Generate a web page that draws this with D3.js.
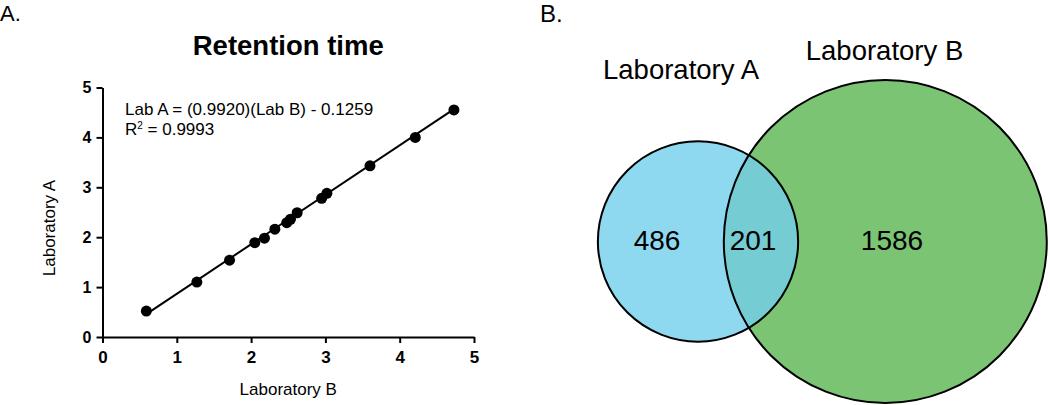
<!DOCTYPE html>
<html>
<head>
<meta charset="utf-8">
<script src="https://cdn.jsdelivr.net/npm/d3@7"></script>
<style>
  body { margin: 0; background: #fff; }
  svg { display: block; font-family: 'Liberation Sans', Arial, sans-serif; }
</style>
</head>
<body>
<div id="chart"></div>
<script>
// Panel A data: retention time, lab B (x) vs lab A (y)
const labB = [0.59, 1.27, 1.71, 2.05, 2.18, 2.32, 2.48, 2.53, 2.62, 2.95, 3.02, 3.60, 4.21, 4.73];
const labA = [0.52, 1.10, 1.54, 1.89, 1.98, 2.16, 2.29, 2.36, 2.49, 2.78, 2.88, 3.43, 4.00, 4.55];
const slope = 0.9920, intercept = -0.1259, rSquared = 0.9993;
const axisTicks = [0, 1, 2, 3, 4, 5];

// Panel B data: Venn counts
const vennLabels = ['Laboratory A', 'Laboratory B'];
const onlyA = 486, shared = 201, onlyB = 1586;

const width = 1050, height = 405;
const svg = d3.select('#chart').append('svg')
  .attr('width', width)
  .attr('height', height);

// ---------- Panel A ----------
const x = d3.scaleLinear().domain([0, 5]).range([102.5, 474]);
const y = d3.scaleLinear().domain([0, 5]).range([337, 87.5]);

svg.append('text').attr('x', 0).attr('y', 20.5)
  .style('font-size', '22px').text('A.');

svg.append('text')
  .attr('x', (x(0) + x(5)) / 2).attr('y', 55)
  .attr('text-anchor', 'middle')
  .style('font-size', '27.5px').style('font-weight', 'bold')
  .text('Retention time');

const xAxis = svg.append('g')
  .attr('transform', 'translate(0,' + y(0) + ')')
  .call(d3.axisBottom(x).tickValues(axisTicks).tickFormat(d3.format('d'))
    .tickSize(6).tickSizeOuter(0).tickPadding(8));
const yAxis = svg.append('g')
  .attr('transform', 'translate(' + x(0) + ',0)')
  .call(d3.axisLeft(y).tickValues(axisTicks).tickFormat(d3.format('d'))
    .tickSize(6).tickSizeOuter(0).tickPadding(5));

[xAxis, yAxis].forEach(g => {
  g.selectAll('path, line').attr('stroke', '#000').attr('stroke-width', 2);
  g.selectAll('text')
    .attr('fill', '#000')
    .style('font-weight', 'bold')
    .style('font-family', "'Liberation Sans', Arial, sans-serif");
});
xAxis.selectAll('text').style('font-size', '17px');
yAxis.selectAll('text').style('font-size', '16px');

svg.append('text')
  .attr('x', (x(0) + x(5)) / 2).attr('y', 395)
  .attr('text-anchor', 'middle')
  .style('font-size', '17px')
  .text('Laboratory B');

svg.append('text')
  .attr('transform', 'translate(55,228) rotate(-90)')
  .attr('text-anchor', 'middle')
  .style('font-size', '17px')
  .text('Laboratory A');

// regression line across the data range
const xMin = d3.min(labB), xMax = d3.max(labB);
svg.append('line')
  .attr('x1', x(xMin)).attr('y1', y(slope * xMin + intercept))
  .attr('x2', x(xMax)).attr('y2', y(slope * xMax + intercept))
  .attr('stroke', '#000').attr('stroke-width', 2);

svg.selectAll('.dot')
  .data(labB.map((v, i) => [v, labA[i]]))
  .enter().append('circle')
  .attr('class', 'dot')
  .attr('cx', d => x(d[0]))
  .attr('cy', d => y(d[1]))
  .attr('r', 5.5)
  .attr('fill', '#000');

svg.append('text').attr('x', 125).attr('y', 115)
  .style('font-size', '17px')
  .text('Lab A = (' + slope.toFixed(4) + ')(Lab B) - ' + Math.abs(intercept).toFixed(4));
const r2 = svg.append('text').attr('x', 125).attr('y', 135).style('font-size', '17px');
r2.append('tspan').text('R');
r2.append('tspan').attr('dy', -6).style('font-size', '10px').text('2');
r2.append('tspan').attr('dy', 6).text(' = ' + rSquared.toFixed(4));

// ---------- Panel B ----------
svg.append('text').attr('x', 540).attr('y', 22)
  .style('font-size', '24px').text('B.');

const totalA = onlyA + shared, totalB = onlyB + shared;
const rScale = d3.scaleSqrt().domain([0, totalB]).range([0, 161.5]);
const rA = rScale(totalA), rB = rScale(totalB);

// lens area of two circles at distance d
function lensArea(d, r1, r2) {
  const a1 = Math.acos((d * d + r1 * r1 - r2 * r2) / (2 * d * r1));
  const a2 = Math.acos((d * d + r2 * r2 - r1 * r1) / (2 * d * r2));
  return r1 * r1 * (a1 - Math.sin(2 * a1) / 2) + r2 * r2 * (a2 - Math.sin(2 * a2) / 2);
}
// area-proportional distance by bisection
const targetArea = Math.PI * rA * rA * shared / totalA;
let lo = rB - rA + 0.01, hi = rA + rB - 0.01;
for (let k = 0; k < 60; k++) {
  const mid = (lo + hi) / 2;
  if (lensArea(mid, rA, rB) > targetArea) lo = mid; else hi = mid;
}
const dist = (lo + hi) / 2;
const cy = 241.5, cxA = 698, cxB = cxA + dist + 1.5;

const defs = svg.append('defs');
defs.append('clipPath').attr('id', 'clipB')
  .append('circle').attr('cx', cxB).attr('cy', cy).attr('r', rB);

svg.append('circle').attr('cx', cxB).attr('cy', cy).attr('r', rB).attr('fill', '#7AC474');
svg.append('circle').attr('cx', cxA).attr('cy', cy).attr('r', rA).attr('fill', '#8FD9F0');
svg.append('circle').attr('cx', cxA).attr('cy', cy).attr('r', rA)
  .attr('fill', '#75CCD3').attr('clip-path', 'url(#clipB)');
[[cxA, rA], [cxB, rB]].forEach(c => {
  svg.append('circle').attr('cx', c[0]).attr('cy', cy).attr('r', c[1])
    .attr('fill', 'none').attr('stroke', '#000').attr('stroke-width', 2);
});

svg.append('text').attr('x', 681).attr('y', 79)
  .attr('text-anchor', 'middle').style('font-size', '27.5px').text(vennLabels[0]);
svg.append('text').attr('x', 884.5).attr('y', 60)
  .attr('text-anchor', 'middle').style('font-size', '27.5px').text(vennLabels[1]);

const countLabels = [
  { v: onlyA, x: 657 },
  { v: shared, x: 753 },
  { v: onlyB, x: 892 }
];
svg.selectAll('.count')
  .data(countLabels).enter().append('text')
  .attr('class', 'count')
  .attr('x', d => d.x).attr('y', 250)
  .attr('text-anchor', 'middle')
  .style('font-size', '28px')
  .text(d => d.v);
</script>
</body>
</html>
